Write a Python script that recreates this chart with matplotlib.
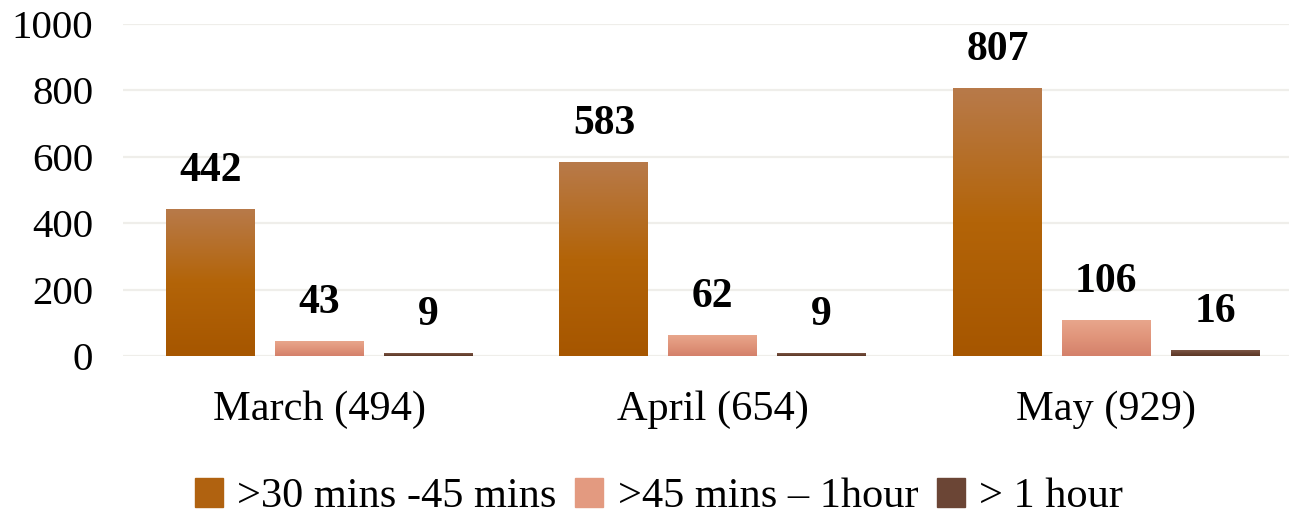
import numpy as np
import matplotlib
matplotlib.use("Agg")
import matplotlib.pyplot as plt
from matplotlib.colors import LinearSegmentedColormap
import matplotlib.patches as mpatches

plt.rcParams["font.family"] = ["Liberation Serif", "DejaVu Serif"]

months = ["March (494)", "April (654)", "May (929)"]
series = [">30 mins -45 mins", ">45 mins \u2013 1hour", "> 1 hour"]
values = [
    [442, 583, 807],   # >30 mins -45 mins
    [43, 62, 106],     # >45 mins – 1hour
    [9, 9, 16],        # > 1 hour
]

# top -> bottom gradient stops per series
gradients = [
    ["#B87A4A", "#B36408", "#A65600"],
    ["#E8A68C", "#E0947A", "#D4806A"],
    ["#7D5646", "#6A4534", "#5C3624"],
]
legend_colors = ["#B06210", "#E39A80", "#6B4535"]

fig = plt.figure(figsize=(12.89, 5.17), dpi=100)
ax = fig.add_axes([122.5 / 1289, 1 - 356 / 517, (1303 - 122.5) / 1289, 332 / 517])

x = np.arange(len(months))
width = 89 / 394
step = 109 / 394

for i, (vals, stops) in enumerate(zip(values, gradients)):
    cmap = LinearSegmentedColormap.from_list(f"g{i}", stops)
    grad = np.linspace(0, 1, 256).reshape(-1, 1)
    bars = ax.bar(x + (i - 1) * step, vals, width, color="none", zorder=2)
    for bar, v in zip(bars, vals):
        x0 = bar.get_x()
        ax.imshow(grad, cmap=cmap, aspect="auto", zorder=2,
                  extent=(x0, x0 + bar.get_width(), 0, bar.get_height()),
                  origin="upper")
        ax.annotate(f"{v}", (x0 + bar.get_width() / 2, v),
                    xytext=(0, 14), textcoords="offset points",
                    ha="center", va="bottom", fontsize=30, fontweight="bold")

ax.set_xlim(-0.5, 2.5)
ax.set_ylim(0, 1000)
ax.set_yticks(range(0, 1001, 200))
ax.set_xticks(x)
ax.set_xticklabels(months)
ax.tick_params(axis="y", length=0, labelsize=29.5, pad=21)
ax.tick_params(axis="x", length=0, labelsize=30.5, pad=25)
ax.yaxis.grid(True, color="#EFEEEA", linewidth=1.6, zorder=0)
ax.set_axisbelow(True)
for s in ax.spines.values():
    s.set_visible(False)

handles = [mpatches.Patch(color=c, label=l) for c, l in zip(legend_colors, series)]
fig.legend(handles=handles, loc="center", bbox_to_anchor=(659 / 1289, 1 - 497 / 517),
           ncol=3, frameon=False, fontsize=30.5, handlelength=0.66, handleheight=0.66,
           handletextpad=0.34, columnspacing=0.44, borderpad=0)

fig.savefig("out.png", dpi=100)
